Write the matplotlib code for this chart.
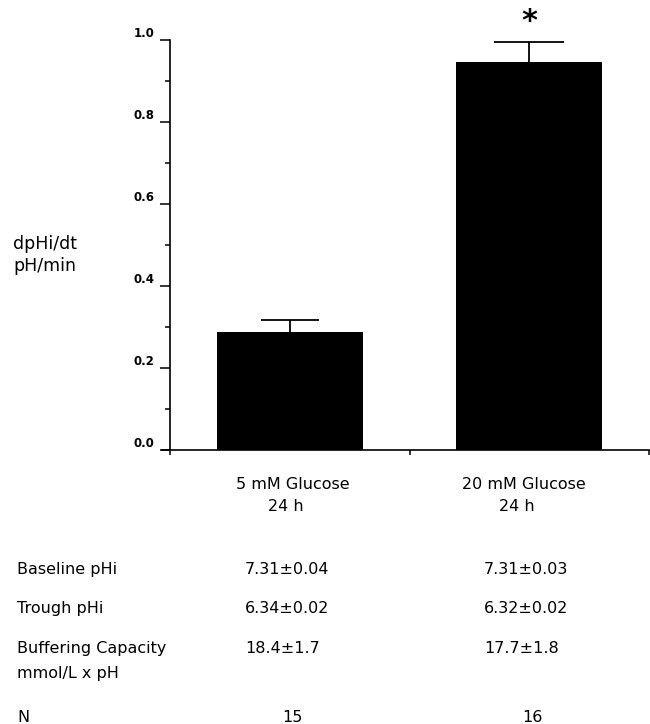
import numpy as np
import matplotlib.pyplot as plt

# bar data
groups = ["5 mM Glucose\n24 h", "20 mM Glucose\n24 h"]
rate = [0.288, 0.947]        # dpHi/dt, pH/min
rate_sem = [0.029, 0.049]

# table under the chart
row_labels = ["Baseline pHi", "Trough pHi", "Buffering Capacity\nmmol/L x pH", "N"]
col_5mM = ["7.31\u00b10.04", "6.34\u00b10.02", "18.4\u00b11.7", "15"]
col_20mM = ["7.31\u00b10.03", "6.32\u00b10.02", "17.7\u00b11.8", "16"]

W, H = 650, 724
fig = plt.figure(figsize=(W / 100, H / 100), dpi=100)

def px(x, y):
    # pixel position -> figure fraction
    return x / W, 1 - y / H

# axes: x=0 sits at 170 px, baseline at 450 px, 1.0 at 40 px
x0 = -16 / 479
ax = fig.add_axes([162 / W, 274 / H, 487 / W, 410 / H])
ax.set_xlim(x0, 2)
ax.set_ylim(0, 1.0)

xpos = np.array([0.5, 1.5])
ax.bar(xpos, rate, width=0.61, color="black", zorder=2)

caps = [21, 25]
for i in range(len(xpos)):
    _, caplines, _ = ax.errorbar(xpos[i], rate[i], yerr=[[0], [rate_sem[i]]],
                                 fmt="none", ecolor="black", elinewidth=1.3,
                                 capsize=caps[i], capthick=1.3, zorder=1)
    caplines[0].set_visible(False)  # only the upper cap

ax.text(1.5, 1.045, "*", ha="center", va="center", fontsize=22,
        fontweight="bold", clip_on=False)

for s in ["top", "right"]:
    ax.spines[s].set_visible(False)
ax.spines["left"].set_position(("data", 0))
ax.spines["left"].set_linewidth(1.2)
ax.spines["bottom"].set_linewidth(1.2)

ax.set_yticks(np.arange(0, 1.01, 0.2))
ax.set_yticks(np.arange(0.1, 1.0, 0.2), minor=True)
ax.set_yticklabels(["0.0", "0.2", "0.4", "0.6", "0.8", "1.0"])
ax.tick_params(axis="y", which="major", length=7.2, width=1.1, pad=4,
               labelsize=8.5)
ax.tick_params(axis="y", which="minor", length=3.6, width=1.1)
for lab in ax.get_yticklabels():
    lab.set_fontweight("bold")
    lab.set_va("bottom")

ax.set_xticks([0, 1, 2])
ax.set_xticklabels([])
ax.tick_params(axis="x", length=3.6, width=1.1)

# y label, left side
fig.text(*px(13, 249), "dpHi/dt", fontsize=12.5, va="baseline")
fig.text(*px(13, 271), "pH/min", fontsize=12.5, va="baseline")

fs = 11.5
# column headers
head_x = [(293, 286), (524, 517)]
for g, (xa, xb) in zip(groups, head_x):
    top, bottom = g.split("\n")
    fig.text(*px(xa, 489), top, fontsize=fs, ha="center", va="baseline")
    fig.text(*px(xb, 511), bottom, fontsize=fs, ha="center", va="baseline")

# table rows (second line of a label goes 25 px lower)
row_y = [574, 613, 653, 722]
for lab, y in zip(row_labels, row_y):
    for k, line in enumerate(lab.split("\n")):
        fig.text(*px(17, y + 25 * k), line, fontsize=fs, va="baseline")

for i in range(3):
    fig.text(*px(245, row_y[i]), col_5mM[i], fontsize=fs, va="baseline")
    fig.text(*px(484, row_y[i]), col_20mM[i], fontsize=fs, va="baseline")
fig.text(*px(292, row_y[3]), col_5mM[3], fontsize=fs, ha="center", va="baseline")
fig.text(*px(532, row_y[3]), col_20mM[3], fontsize=fs, ha="center", va="baseline")

fig.savefig("out.png", dpi=100)
